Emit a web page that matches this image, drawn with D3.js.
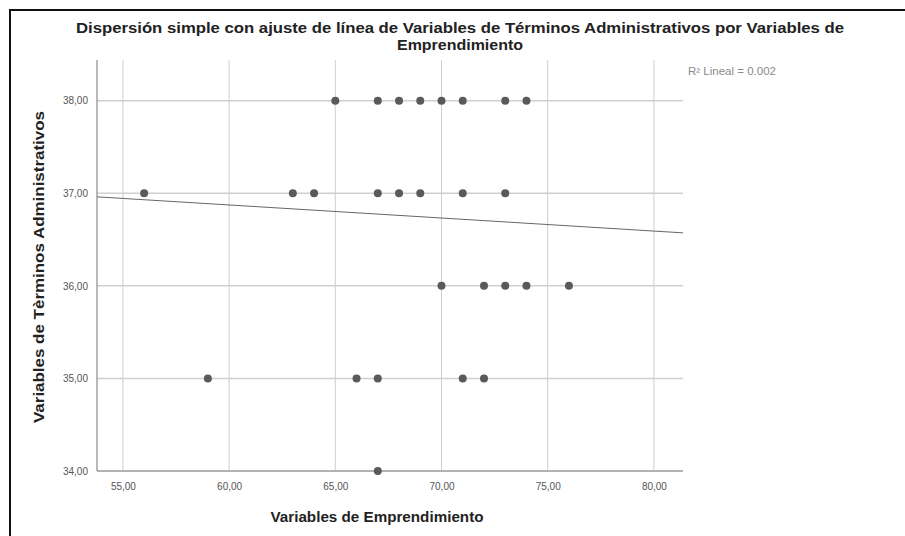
<!DOCTYPE html>
<html>
<head>
<meta charset="utf-8">
<script src="https://cdn.jsdelivr.net/npm/d3@7"></script>
<style>
  html, body { margin: 0; padding: 0; background: #fff; }
  svg { display: block; }
</style>
</head>
<body>
<svg id="chart" width="905" height="536"></svg>
<script>
// ---- data ----
const emprendimiento = [65, 67, 68, 69, 70, 71, 73, 74,
                        56, 63, 64, 67, 68, 69, 71, 73,
                        70, 72, 73, 74, 76,
                        59, 66, 67, 71, 72,
                        67];
const terminos = [38, 38, 38, 38, 38, 38, 38, 38,
                  37, 37, 37, 37, 37, 37, 37, 37,
                  36, 36, 36, 36, 36,
                  35, 35, 35, 35, 35,
                  34];
const xTicks = [55, 60, 65, 70, 75, 80];
const yTicks = [34, 35, 36, 37, 38];
const fitIntercept = 37.72;
const fitSlope = -0.0141;
const r2Label = "R² Lineal = 0.002";

const title1 = "Dispersión simple con ajuste de línea de Variables de Términos Administrativos por Variables de";
const title2 = "Emprendimiento";
const xLabel = "Variables de Emprendimiento";
const yLabel = "Variables de Tèrminos Administrativos";

// ---- layout ----
const svg = d3.select("#chart");
const pL = 97, pR = 683, pT = 60, pB = 471;
const xDomain = [53.78, 81.37];
const yDomain = [34, 38.44];

const x = d3.scaleLinear().domain(xDomain).range([pL, pR]);
const y = d3.scaleLinear().domain(yDomain).range([pB, pT]);
const fmt = d => d3.format(".2f")(d).replace(".", ",");
const FONT = "Liberation Sans, Arial, sans-serif";

// outer frame (top and left)
svg.append("line").attr("x1", 9).attr("x2", 905).attr("y1", 10).attr("y2", 10)
  .attr("stroke", "#111").attr("stroke-width", 2);
svg.append("line").attr("x1", 10).attr("x2", 10).attr("y1", 9).attr("y2", 536)
  .attr("stroke", "#111").attr("stroke-width", 2);

// title
svg.append("text").attr("x", 460).attr("y", 33).attr("text-anchor", "middle")
  .attr("font-family", FONT).attr("font-weight", "bold")
  .attr("font-size", 14).attr("fill", "#222")
  .attr("textLength", 768).attr("lengthAdjust", "spacingAndGlyphs").text(title1);
svg.append("text").attr("x", 460).attr("y", 50).attr("text-anchor", "middle")
  .attr("font-family", FONT).attr("font-weight", "bold")
  .attr("font-size", 14).attr("fill", "#222")
  .attr("textLength", 126).attr("lengthAdjust", "spacingAndGlyphs").text(title2);

// gridlines
const grid = svg.append("g");
grid.selectAll("line.gx").data(xTicks).join("line")
  .attr("x1", d => x(d)).attr("x2", d => x(d)).attr("y1", pT).attr("y2", pB)
  .attr("stroke", "#cfcfcf").attr("stroke-width", 1);
grid.selectAll("line.gy").data(yTicks).join("line")
  .attr("x1", pL).attr("x2", pR).attr("y1", d => y(d)).attr("y2", d => y(d))
  .attr("stroke", "#cfcfcf").attr("stroke-width", 1.5);

// axes
const xAxis = d3.axisBottom(x).tickValues(xTicks).tickFormat(fmt).tickSize(0).tickPadding(12);
const yAxis = d3.axisLeft(y).tickValues(yTicks).tickFormat(fmt).tickSize(0).tickPadding(9);
const gx = svg.append("g").attr("transform", `translate(0,${pB})`).call(xAxis);
const gy = svg.append("g").attr("transform", `translate(${pL},0)`).call(yAxis);
[gx, gy].forEach(g => {
  g.select(".domain").attr("stroke", "#8a8a8a").attr("stroke-width", 1.2);
  g.selectAll("text").attr("font-family", FONT)
    .attr("font-size", 10).attr("fill", "#555");
});
gx.select(".domain").attr("d", `M${pL},0H${pR}`);
gy.select(".domain").attr("d", `M0,${pT}V${pB}`);

// fit line
svg.append("line")
  .attr("x1", x(xDomain[0])).attr("y1", y(fitIntercept + fitSlope * xDomain[0]))
  .attr("x2", x(xDomain[1])).attr("y2", y(fitIntercept + fitSlope * xDomain[1]))
  .attr("stroke", "#666").attr("stroke-width", 1);

// points
svg.append("g").selectAll("circle").data(emprendimiento.map((v, i) => [v, terminos[i]])).join("circle")
  .attr("cx", d => x(d[0])).attr("cy", d => y(d[1])).attr("r", 4)
  .attr("fill", "#5a5a5a");

// legend text
svg.append("text").attr("x", 688).attr("y", 75)
  .attr("font-family", FONT).attr("font-size", 10)
  .attr("fill", "#8a8a8a").attr("textLength", 88).attr("lengthAdjust", "spacingAndGlyphs")
  .text(r2Label);

// axis labels
svg.append("text").attr("x", 377).attr("y", 522).attr("text-anchor", "middle")
  .attr("font-family", FONT).attr("font-weight", "bold")
  .attr("font-size", 15).attr("fill", "#222")
  .attr("textLength", 213).attr("lengthAdjust", "spacingAndGlyphs").text(xLabel);
svg.append("text").attr("transform", "translate(44,267) rotate(-90)").attr("text-anchor", "middle")
  .attr("font-family", FONT).attr("font-weight", "bold")
  .attr("font-size", 15).attr("fill", "#222")
  .attr("textLength", 312).attr("lengthAdjust", "spacingAndGlyphs").text(yLabel);
</script>
</body>
</html>
